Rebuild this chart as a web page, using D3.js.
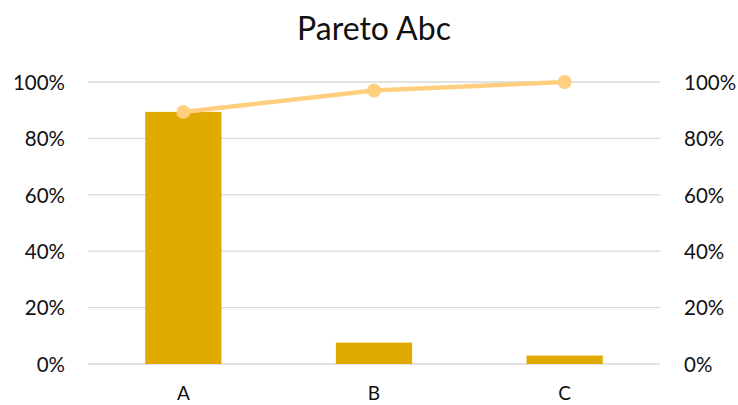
<!DOCTYPE html>
<html>
<head>
<meta charset="utf-8">
<script src="https://cdn.jsdelivr.net/npm/d3@7"></script>
<style>
  body { margin: 0; background: #fff; }
  text { font-family: Lato, "Open Sans", sans-serif; fill: #111; }
</style>
</head>
<body>
<div id="chart-area"></div>
<script>
const categories = ["A", "B", "C"]
const shares = [0.894, 0.076, 0.030]
const cumulative = [0.894, 0.970, 1.0]
const tickValues = [0, 0.2, 0.4, 0.6, 0.8, 1.0]

const W = 738, H = 405
const MARGIN = { LEFT: 88, RIGHT: 78, TOP: 82, BOTTOM: 41 }
const WIDTH = W - MARGIN.LEFT - MARGIN.RIGHT
const HEIGHT = H - MARGIN.TOP - MARGIN.BOTTOM

const svg = d3.select("#chart-area").append("svg")
  .attr("width", W)
  .attr("height", H)

svg.append("text")
  .attr("x", 374)
  .attr("y", 40)
  .attr("text-anchor", "middle")
  .attr("font-size", "32px")
  .text("Pareto Abc")

const g = svg.append("g")
  .attr("transform", `translate(${MARGIN.LEFT}, ${MARGIN.TOP})`)

const x = d3.scaleBand()
  .domain(categories)
  .range([0, WIDTH])
  .paddingInner(0.6)
  .paddingOuter(0.3)

const y = d3.scaleLinear().domain([0, 1]).range([HEIGHT, 0])

// gridlines
g.append("g").selectAll("line")
  .data(tickValues)
  .enter().append("line")
  .attr("x1", 0).attr("x2", WIDTH)
  .attr("y1", d => y(d)).attr("y2", d => y(d))
  .attr("stroke", "#d9d9d9")
  .attr("stroke-width", 1.3)

// axes (labels only)
const fmt = d3.format(".0%")
const leftAx = g.append("g")
  .attr("transform", "translate(-20,0)")
  .call(d3.axisLeft(y).tickValues(tickValues).tickFormat(fmt).tickSize(0))
const rightAx = g.append("g")
  .attr("transform", `translate(${WIDTH + 21},0)`)
  .call(d3.axisRight(y).tickValues(tickValues).tickFormat(fmt).tickSize(0))
const bottomAx = g.append("g")
  .attr("transform", `translate(0, ${HEIGHT + 36})`)
  .call(d3.axisBottom(x).tickSize(0))

;[leftAx, rightAx, bottomAx].forEach(a => {
  a.select(".domain").remove()
  a.selectAll("text").attr("font-size", "20.5px").attr("font-family", "Lato, 'Open Sans', sans-serif").attr("fill", "#111")
})
leftAx.selectAll("text").attr("dy", "0.36em")
rightAx.selectAll("text").attr("dy", "0.36em")
bottomAx.selectAll("text").attr("y", 0).attr("dy", 0).attr("font-size", "19px")

// bars
g.selectAll(".bar")
  .data(shares)
  .enter().append("rect")
  .attr("class", "bar")
  .attr("x", (d, i) => x(categories[i]))
  .attr("width", x.bandwidth())
  .attr("y", d => y(d))
  .attr("height", d => HEIGHT - y(d))
  .attr("fill", "#e0aa00")

// cumulative line
const line = d3.line()
  .x((d, i) => x(categories[i]) + x.bandwidth() / 2)
  .y(d => y(d))

g.append("path")
  .datum(cumulative)
  .attr("d", line)
  .attr("fill", "none")
  .attr("stroke", "#ffcf7f")
  .attr("stroke-width", 4.5)

g.selectAll(".pt")
  .data(cumulative)
  .enter().append("circle")
  .attr("class", "pt")
  .attr("cx", (d, i) => x(categories[i]) + x.bandwidth() / 2)
  .attr("cy", d => y(d))
  .attr("r", 7)
  .attr("fill", "#ffcf7f")
</script>
</body>
</html>
